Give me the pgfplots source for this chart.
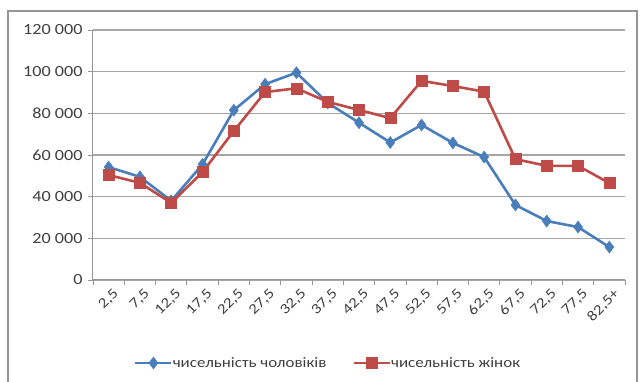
\documentclass[border=0pt]{standalone}
\usepackage{pgfplots}
\pgfplotsset{compat=1.18}
\usepackage{fontspec}
\setmainfont{Carlito}[FakeStretch=1.17]
\definecolor{mblue}{HTML}{4A7EBB}
\definecolor{mred}{HTML}{BE4B48}
\definecolor{txt}{HTML}{3F3F3F}
\definecolor{gridc}{HTML}{A6A6A6}
\definecolor{axisc}{HTML}{959595}
\begin{document}
\begin{tikzpicture}[x=1pt,y=1pt]
\useasboundingbox (0,0) rectangle (641,382);
\begin{scope}
\clip (0,0) rectangle (641,382);
\draw[color=axisc, line width=1.2pt] (8,-10) rectangle (637,371);
\end{scope}
\begin{axis}[
  at={(93pt,102pt)}, anchor=south west,
  scale only axis, width=532pt, height=250pt,
  xmin=-0.5, xmax=16.5, ymin=0, ymax=120000,
  xtick={-0.5,0.5,...,16.5},
  x tick label as interval,
  xticklabels={{2,5},{7,5},{12,5},{17,5},{22,5},{27,5},{32,5},{37,5},{42,5},{47,5},{52,5},{57,5},{62,5},{67,5},{72,5},{77,5},{82,5+}},
  tick align=outside,
  scaled y ticks=false,
  ytick={0,20000,40000,60000,80000,100000,120000},
  yticklabels={0,20 000,40 000,60 000,80 000,100 000,120 000},
  major tick length=5pt,
  tick style={color=axisc, line width=0.8pt},
  xmajorgrids=false,
  ymajorgrids=true,
  major grid style={color=gridc, line width=1.2pt},
  axis line style={color=axisc, line width=1pt},
  axis x line*=bottom, axis y line*=left,
  x tick label style={rotate=45, anchor=north east, font=\fontsize{14.5}{16}\selectfont, text=txt, xshift=4pt, yshift=-1pt},
  y tick label style={font=\fontsize{15.5}{18}\selectfont, text=txt, xshift=-2pt},
  /pgf/number format/assume math mode=true,
  legend style={at={(0.442,-0.332)}, anchor=center, draw=none, fill=none, legend columns=2,
    font=\fontsize{14.5}{16}\selectfont, text=txt,
    /tikz/every even column/.append style={column sep=24pt},
    /tikz/every odd column/.append style={column sep=-2pt}},
  legend image code/.code={\draw[mark repeat=2,mark phase=2] plot coordinates {(0pt,0pt) (18pt,0pt) (36pt,0pt)};},
]
\addplot[color=mblue, line width=2.6pt, mark=diamond*, mark size=6pt, mark options={solid, line width=0.5pt}]
 coordinates {(0,54200) (1,49500) (2,38000) (3,55500) (4,81500) (5,94000) (6,99500) (7,85000) (8,75500) (9,66000) (10,74400) (11,65800) (12,59000) (13,36000) (14,28300) (15,25400) (16,15800)};
\addlegendentry{чисельність чоловіків}
\addplot[color=mred, line width=2.6pt, mark=square*, mark size=5.5pt, mark options={solid, line width=0.5pt}]
 coordinates {(0,50400) (1,46600) (2,37000) (3,51800) (4,71500) (5,90200) (6,92000) (7,85500) (8,81600) (9,77700) (10,95600) (11,93100) (12,90400) (13,58000) (14,54800) (15,54800) (16,46500)};
\addlegendentry{чисельність жінок}
\end{axis}
\end{tikzpicture}
\end{document}
